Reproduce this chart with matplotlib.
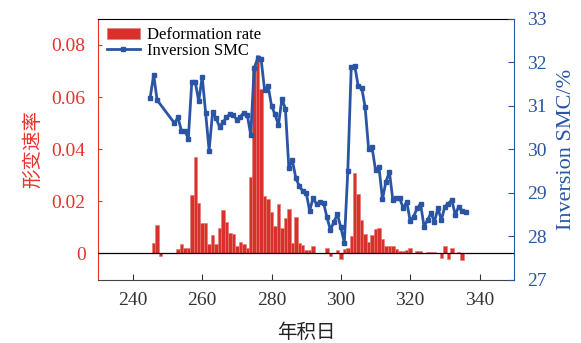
import matplotlib
matplotlib.use("Agg")
import matplotlib.pyplot as plt

plt.rcParams['font.family'] = ['Liberation Serif', 'Noto Sans CJK SC']

# Day of year for the deformation rate bars
rate_days = list(range(246, 336))
rate_vals = [
    0.004, 0.011, -0.001, 0, 0, 0, 0, 0.0018, 0.0038, 0.0022,            # 246-255
    0.0022, 0.0226, 0.0369, 0.0192, 0.0118, 0.0118, 0.0038, 0.0069, 0.0038, 0.0096,  # 256-265
    0.0166, 0.0121, 0.0079, 0.0075, 0.0028, 0.0045, 0.0037, 0.0022, 0.0294, 0.072,   # 266-275
    0.076, 0.063, 0.022, 0.021, 0.016, 0.0105, 0.019, 0.0096, 0.0137, 0.017,         # 276-285
    0.0041, 0.014, 0.0041, 0.0034, 0.0015, 0.0015, 0.003, 0, 0, 0,                   # 286-295
    0.0022, -0.0008, 0, 0.0015, -0.0023, 0.0018, 0.0022, 0.0066, 0.031, 0.023,       # 296-305
    0.013, 0.0073, 0.0043, 0.0069, 0.0092, 0.0096, 0.0054, 0.0028, 0.003, 0.003,     # 306-315
    0.0018, 0.0009, 0.0009, 0.0015, 0.002, 0, 0.0009, 0.001, 0.0003, 0.0005,         # 316-325
    0.0005, 0.0005, 0.0003, -0.0016, 0.0029, -0.0022, 0.002, 0, 0.0005, -0.0026,     # 326-335
]

# Inversion soil moisture content (%)
smc_days = [245, 246, 247] + list(range(252, 337))
smc_vals = [
    31.19, 31.71, 31.13,
    30.60, 30.73, 30.43, 30.43, 30.24, 31.55, 31.55, 31.10,   # 252-259
    31.67, 30.83, 29.97, 30.85, 30.71, 30.52, 30.62, 30.73, 30.81, 30.78,  # 260-269
    30.68, 30.75, 30.84, 30.79, 30.33, 31.87, 32.09, 32.07, 31.36, 31.46,  # 270-279
    31.00, 30.80, 30.56, 31.16, 30.93, 29.57, 29.75, 29.34, 29.15, 29.04,  # 280-289
    29.00, 28.58, 28.88, 28.73, 28.79, 28.77, 28.43, 28.14, 28.33, 28.50,  # 290-299
    28.20, 27.85, 29.49, 31.90, 31.92, 31.46, 31.42, 30.97, 30.01, 30.04,  # 300-309
    29.52, 29.59, 28.85, 29.25, 29.48, 28.83, 28.87, 28.87, 28.64, 28.79,  # 310-319
    28.35, 28.45, 28.64, 28.74, 28.22, 28.37, 28.53, 28.33, 28.64, 28.37,  # 320-329
    28.68, 28.75, 28.83, 28.49, 28.68, 28.58, 28.56,                      # 330-336
]

x_ticks = [240, 260, 280, 300, 320, 340]
left_ticks = [0, 0.02, 0.04, 0.06, 0.08]
left_labels = ['0', '0.02', '0.04', '0.06', '0.08']
right_ticks = [27, 28, 29, 30, 31, 32, 33]

red = '#e8312c'
blue = '#2a55a5'
cjk = ['Noto Sans CJK SC', 'Liberation Serif']

fig = plt.figure(figsize=(5.81, 3.43), dpi=100)
ax1 = fig.add_axes([0.169, 0.185, 0.716, 0.760])
ax2 = ax1.twinx()

bars = ax1.bar(rate_days, rate_vals, width=1.0, color='#d8302a',
               edgecolor='#e5776f', linewidth=0.4, label='Deformation rate')
ax1.axhline(0, color='black', lw=0.9, zorder=3)

line, = ax2.plot(smc_days, smc_vals, color=blue, lw=2.0, marker='s',
                 markersize=2.8, label='Inversion SMC')

ax1.set_xlim(230, 350)
ax1.set_ylim(-0.01, 0.09)
ax2.set_ylim(27, 33)

ax1.set_xticks(x_ticks)
ax1.set_yticks(left_ticks)
ax1.set_yticklabels(left_labels)
ax2.set_yticks(right_ticks)

ax1.tick_params(axis='x', direction='in', length=4, width=0.8, colors='#333333',
                labelsize=14, pad=9)
ax1.tick_params(axis='y', direction='in', length=3, width=0.8, colors=red,
                labelsize=14, pad=9)
ax2.tick_params(axis='y', direction='in', length=4, width=0.8, colors=blue,
                labelsize=14, pad=9)

ax1.spines['left'].set_color(red)
ax1.spines['bottom'].set_color('#444444')
ax1.spines['top'].set_color('black')
ax1.spines['right'].set_visible(False)
ax2.spines['left'].set_visible(False)
ax2.spines['top'].set_visible(False)
ax2.spines['bottom'].set_visible(False)
ax2.spines['right'].set_color(blue)

ax1.set_ylabel('形变速率', color=red, fontsize=14, family=cjk, labelpad=6)
ax1.set_xlabel('年积日', color='#222222', fontsize=14, family=cjk, labelpad=9)
ax2.set_ylabel('Inversion SMC/%', color=blue, fontsize=16, labelpad=8)

ax2.legend([bars, line], ['Deformation rate', 'Inversion SMC'], loc='upper left',
           frameon=False, fontsize=12, handlelength=2.0, handletextpad=0.4,
           labelspacing=0.0, borderaxespad=0.3, borderpad=0.2)

fig.savefig('out.png', dpi=100)
